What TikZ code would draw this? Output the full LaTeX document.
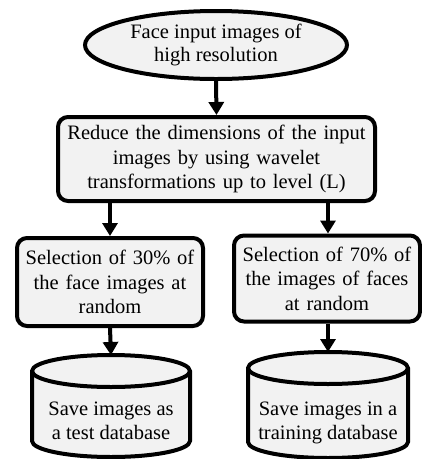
\documentclass[tikz,border=0pt]{standalone}
\usepackage{fontspec}
\setmainfont{Liberation Serif}
\usetikzlibrary{shapes.geometric,arrows.meta}
\begin{document}
\begin{tikzpicture}[x=1pt,y=-1pt,
  txt/.style={font=\fontsize{20.5}{24.5}\selectfont, align=center},
  blk/.style={draw=black, line width=4pt, fill=black!5},
  boxr/.style={blk, txt, rectangle, rounded corners=10pt, inner sep=0pt},
  arr/.style={line width=4pt, -{Triangle[length=13pt,width=15pt]}}]
\useasboundingbox (0,0) rectangle (422,459);
% ellipse
\node[blk, txt, ellipse, minimum width=262pt, minimum height=68pt, inner sep=0pt] (e) at (216,45) {Face input images of\\[-1pt]high resolution};
% reduce box
\node[boxr, minimum width=317pt, minimum height=84pt, text width=315pt] (r) at (216.5,159) {Reduce the dimensions of the input\\images by using wavelet\\transformations up to level (L)};
% selection boxes
\node[boxr, minimum width=186pt, minimum height=88pt, text width=184pt] (l) at (110,282) {Selection of 30\% of\\the face images at\\random};
\node[boxr, minimum width=186pt, minimum height=86pt, text width=184pt] (rt) at (327,278.5) {Selection of 70\% of\\the images of faces\\at random};
% cylinders
\draw[blk] (32,371) arc[start angle=180,end angle=360,x radius=79,y radius=16]
  -- (190,441) arc[start angle=0,end angle=180,x radius=79,y radius=16] -- cycle;
\draw[line width=4pt] (32,371) arc[start angle=180,end angle=0,x radius=79,y radius=16];
\coordinate (ltop) at (111,355);
\node[txt, inner sep=0pt] (lc) at (111,421) {Save images as\\a test database};
\draw[blk] (248,368) arc[start angle=180,end angle=360,x radius=80,y radius=16]
  -- (408,442) arc[start angle=0,end angle=180,x radius=80,y radius=16] -- cycle;
\draw[line width=4pt] (248,368) arc[start angle=180,end angle=0,x radius=80,y radius=16];
\coordinate (rtop) at (328,352);
\node[txt, inner sep=0pt] (rc) at (328,423) {Save images in a\\training database};
% arrows
\draw[arr] (e.south) -- (r.north);
\draw[arr] (l.north |- r.south) -- (l.north);
\draw[arr] (328,0 |- r.south) -- (328,0 |- rt.north);
\draw[arr] (l.south) -- (ltop);
\draw[arr] (rt.south -| rtop) -- (rtop);
\end{tikzpicture}
\end{document}
